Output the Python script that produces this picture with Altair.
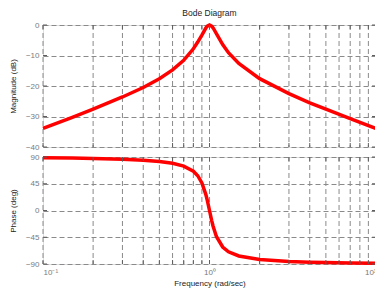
import altair as alt
import pandas as pd

# Frequency (rad/sec) sample points
freq = [0.1, 0.15, 0.2, 0.3, 0.4, 0.5, 0.6, 0.7, 0.8, 0.85, 0.9, 0.95, 0.97,
        1.0, 1.03, 1.05, 1.1, 1.2, 1.3, 1.5, 2, 3, 4, 5, 7, 10]
# Magnitude (dB)
mag = [-33.9, -30.3, -27.6, -23.6, -20.5, -17.6, -14.7, -11.6, -7.8, -5.6, -3.3,
       -1.0, -0.4, 0.0, -0.4, -0.9, -2.8, -6.4, -9.1, -12.6, -17.6, -22.5,
       -25.5, -27.6, -30.7, -33.9]
# Phase (deg)
phase = [88.8, 88.3, 87.6, 86.2, 84.6, 82.4, 79.4, 74.7, 66.0, 58.5, 46.5, 27.2,
         16.9, 0.0, -16.5, -26.0, -43.7, -61.4, -69.4, -76.5, -82.4, -85.7,
         -87.0, -87.6, -88.3, -88.8]

x_grid = [0.1, 0.2, 0.3, 0.4, 0.5, 0.6, 0.7, 0.8, 0.9, 1, 2, 3, 4, 5, 6, 7, 8, 9, 10]
mag_ticks = [-40, -30, -20, -10, 0]
phase_ticks = [-90, -45, 0, 45, 90]

W = 333
H1 = 122
H2 = 107
FONT = "Liberation Sans"
GRID = "#8a8a8a"
FRAME = "#5e5e5e"
RED = "#ff0000"

df = pd.DataFrame({"f": freq, "mag": mag, "phase": phase})
gx = pd.DataFrame({"f": x_grid})
gy1 = pd.DataFrame({"v": mag_ticks})
gy2 = pd.DataFrame({"v": phase_ticks})

xscale = alt.Scale(type="log", domain=[0.1, 10], nice=False)

label_expr = ("datum.value == 0.1 ? '10⁻¹' : datum.value == 1 ? '10⁰' : "
              "datum.value == 10 ? '10¹' : ''")


def panel(field, ydomain, yticks, gy, h, ytitle, show_x):
    yscale = alt.Scale(domain=ydomain, nice=False, zero=False)
    if show_x:
        xaxis = alt.Axis(values=x_grid, grid=False, ticks=False, domain=False,
                         labelExpr=label_expr, labelOverlap=False,
                         labelFlush=True, labelFont=FONT, labelFontSize=8,
                         labelColor="#7a7a7a", labelPadding=4,
                         titleFont=FONT, titleFontSize=8, titleFontWeight="normal",
                         titleColor="#222222", titlePadding=3)
        xtitle = "Frequency  (rad/sec)"
    else:
        xaxis = None
        xtitle = None
    yaxis = alt.Axis(values=yticks, grid=True, gridDash=[5, 3], gridColor=GRID,
                     gridWidth=1, ticks=False, domain=False, labelFont=FONT,
                     labelFontSize=8, labelColor="#7a7a7a", labelPadding=4,
                     titleFont=FONT, titleFontSize=8,
                     titleFontWeight="normal", titleColor="#222222",
                     titlePadding=8)

    def X():
        return alt.X("f:Q", scale=xscale, axis=xaxis, title=xtitle)

    def Y(name):
        return alt.Y(name, scale=yscale, axis=yaxis, title=ytitle)

    vgrid = alt.Chart(gx).mark_rule(color=GRID, strokeWidth=1, strokeDash=[5, 3]).encode(
        x=X(), y=alt.value(0), y2=alt.value(h))
    line = alt.Chart(df).mark_line(color=RED, strokeWidth=3.5, clip=False).encode(
        x=X(), y=Y(f"{field}:Q"))
    top_t = alt.Chart(gx).mark_rule(color=FRAME, strokeWidth=1).encode(
        x=X(), y=alt.value(0), y2=alt.value(4))
    bot_t = alt.Chart(gx).mark_rule(color=FRAME, strokeWidth=1).encode(
        x=X(), y=alt.value(h - 4), y2=alt.value(h))
    left_t = alt.Chart(gy).mark_rule(color=FRAME, strokeWidth=1).encode(
        y=Y("v:Q"), x=alt.value(0), x2=alt.value(4))
    right_t = alt.Chart(gy).mark_rule(color=FRAME, strokeWidth=1).encode(
        y=Y("v:Q"), x=alt.value(W - 4), x2=alt.value(W))
    return alt.layer(vgrid, line, top_t, bot_t, left_t, right_t).properties(width=W, height=h)


top = panel("mag", [-40, 0], mag_ticks, gy1, H1, "Magnitude (dB)", False).properties(
    title=alt.TitleParams("Bode Diagram", font=FONT, fontSize=8.5, fontWeight="normal",
                          color="#222222", offset=1))
bottom = panel("phase", [-90, 90], phase_ticks, gy2, H2, "Phase (deg)", True)

chart = alt.vconcat(top, bottom, spacing=10, bounds="flush").configure_view(
    stroke=FRAME, strokeWidth=1.2
).configure(background="white", padding={"left": 0, "top": 0, "right": -9, "bottom": 0})

chart.save("out.html", embed_options={"renderer": "svg", "actions": False})
